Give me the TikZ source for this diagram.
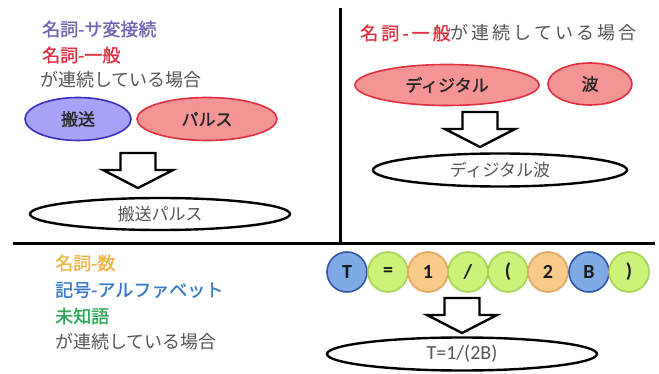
\documentclass[tikz,border=0pt]{standalone}
\usepackage{fontspec}
\usetikzlibrary{shapes.geometric}
\newfontfamily\jp{Noto Sans CJK JP}
\newfontfamily\jpb{Noto Sans CJK JP}[FakeBold=1.2]
\newfontfamily\jpsp{Noto Sans CJK JP}[LetterSpace=17]
\newfontfamily\jpspb{Noto Sans CJK JP}[LetterSpace=17,FakeBold=1.2]
\newfontfamily\lat{Carlito}
\definecolor{cpurple}{HTML}{7462B4}
\definecolor{cred}{HTML}{E0303F}
\definecolor{cgray}{HTML}{555555}
\definecolor{corange}{HTML}{F2B540}
\definecolor{cblue}{HTML}{3A7CC8}
\definecolor{cgreen}{HTML}{2EA85A}
\definecolor{pfill}{HTML}{A8A2F6}
\definecolor{pdraw}{HTML}{3C2EC0}
\definecolor{rfill}{HTML}{F49494}
\definecolor{rdraw}{HTML}{E0303F}
\definecolor{bfill}{HTML}{7EAAE4}
\definecolor{bdraw}{HTML}{3454A8}
\definecolor{gfill}{HTML}{CDF27A}
\definecolor{gdraw}{HTML}{A6D456}
\definecolor{ofill}{HTML}{F8CA88}
\definecolor{odraw}{HTML}{E4A662}
\begin{document}
\begin{tikzpicture}[x=1pt,y=-1pt,
  lbl/.style={anchor=west,inner sep=0pt,font=\fontsize{18}{20}\selectfont\jp},
  tok/.style={ellipse,line width=1.6pt,inner sep=0pt,font=\fontsize{17}{20}\selectfont\jpb,text=black!85},
  ptok/.style={tok,fill=pfill,draw=pdraw},
  rtok/.style={tok,fill=rfill,draw=rdraw},
  result/.style={ellipse,draw=black,line width=2.4pt,fill=white,inner sep=0pt,text=cgray,font=\fontsize{17}{20}\selectfont\jp},
  chr/.style={circle,minimum size=40pt,inner sep=0pt,line width=1.6pt,font=\fontsize{20}{20}\selectfont\lat\bfseries,text=black!90},
  bc/.style={chr,fill=bfill,draw=bdraw},
  gc/.style={chr,fill=gfill,draw=gdraw},
  oc/.style={chr,fill=ofill,draw=odraw},
  divider/.style={line width=3pt,black},
  blockarrow/.pic={\draw[line width=2.4pt,fill=white,line join=miter]
     (-17.5,0) -- (17.5,0) -- (17.5,17) -- (35,17) -- (0,35) -- (-35,17) -- (-17.5,17) -- cycle;}
]
\useasboundingbox (0,0) rectangle (659,374);
\fill[white] (0,0) rectangle (659,374);

% dividers
\coordinate (vtop) at (340,8);
\coordinate (vbot) at (340,244);
\coordinate (hl) at (13,244);
\coordinate (hr) at (655,244);
\draw[divider] (vtop) -- (vbot);
\draw[divider] (hl) -- (hr);

% top-left
\node[lbl,text=cpurple,font=\fontsize{18}{20}\selectfont\jpb] (t1) at (42,29) {名詞-サ変接続};
\node[lbl,text=cred,font=\fontsize{18}{20}\selectfont\jpb] (t2) at (42,55) {名詞-一般};
\node[lbl,text=cgray] (t3) at (40,80) {が連続している場合};
\node[ptok,minimum width=106pt,minimum height=43pt] (hs) at (78,119) {搬送};
\node[rtok,minimum width=140pt,minimum height=43pt] (pl) at (207,119) {パルス};
\pic at (138,153) {blockarrow};
\node[result,minimum width=260pt,minimum height=32pt] (r1) at (160,214) {搬送パルス};

% top-right
\node[lbl,font=\fontsize{18}{20}\selectfont\jpsp] (t4) at (360,33) {\textcolor{cred}{\jpspb 名詞-一般}\textcolor{cgray}{が連続している場合}};
\node[rtok,minimum width=184pt,minimum height=41pt] (dg) at (447,85) {ディジタル};
\node[rtok,minimum width=84pt,minimum height=42pt] (nm) at (590,84) {波};
\pic at (480,112) {blockarrow};
\node[result,minimum width=254pt,minimum height=33pt] (r2) at (500,170) {ディジタル波};

% bottom-left
\node[lbl,text=corange,font=\fontsize{18}{20}\selectfont\jpb] (b1) at (55,263) {名詞-数};
\node[lbl,text=cblue,font=\fontsize{18}{20}\selectfont\jpb] (b2) at (55,290) {記号-アルファベット};
\node[lbl,text=cgreen,font=\fontsize{18}{20}\selectfont\jpb] (b3) at (55,316) {未知語};
\node[lbl,text=cgray] (b4) at (55,342) {が連続している場合};

% bottom-right
\node[bc] (c1) at (347,272) {T};
\node[gc] (c2) at (388,272) {=};
\node[oc] (c3) at (428,272) {1};
\node[gc] (c4) at (468,272) {/};
\node[gc] (c5) at (508,272) {(};
\node[oc] (c6) at (548,272) {2};
\node[bc] (c7) at (589,272) {B};
\node[gc] (c8) at (629,272) {)};
\pic at (462,298) {blockarrow};
\node[result,minimum width=270pt,minimum height=33pt,font=\fontsize{20}{20}\selectfont\lat] (r3) at (462,354) {T=1/(2B)};
\end{tikzpicture}
\end{document}
